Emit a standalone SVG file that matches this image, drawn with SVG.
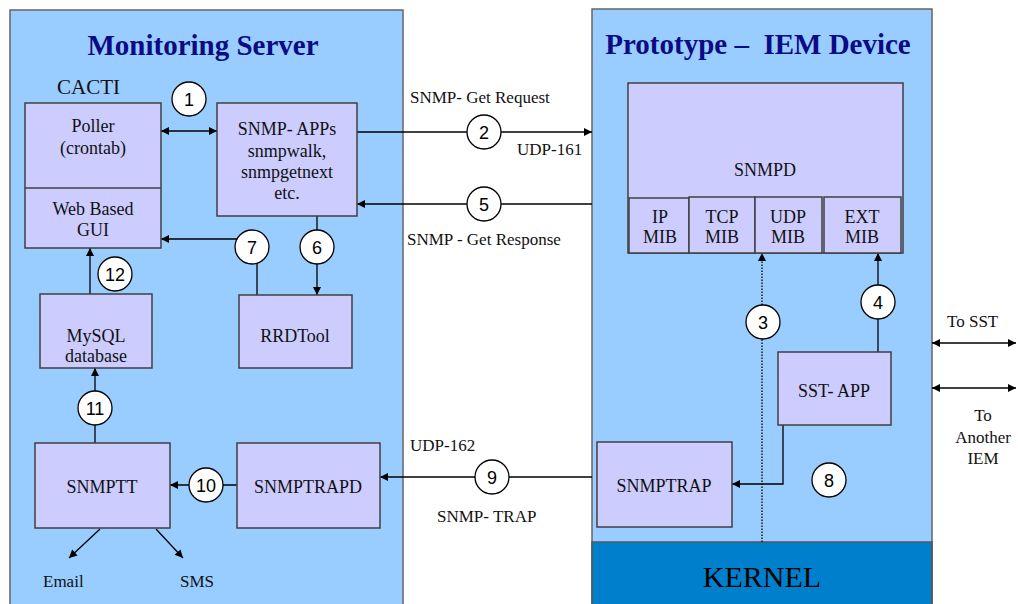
<svg xmlns="http://www.w3.org/2000/svg" width="1018" height="604" viewBox="0 0 1018 604">
<style>
.panel{fill:#99ccff;stroke:#666;stroke-width:1.5}
.box{fill:#ccccff;stroke:#404040;stroke-width:1.5}
.t{font-family:"Liberation Serif",serif;font-size:18px;fill:#111;text-anchor:middle}
.lbl{font-family:"Liberation Serif",serif;font-size:17px;fill:#111}
.title{font-family:"Liberation Serif",serif;font-weight:bold;font-size:29px;fill:#0b0b85;text-anchor:middle;white-space:pre}
.num circle{fill:#fff;stroke:#000;stroke-width:1.3}
.num text{font-family:"Liberation Sans",sans-serif;font-size:18px;fill:#000;text-anchor:middle}
.ln{stroke:#000;stroke-width:1.3;fill:none}
</style>
<defs>
<marker id="ah" viewBox="0 0 10 10" refX="10" refY="5" markerWidth="10" markerHeight="8" markerUnits="userSpaceOnUse" orient="auto-start-reverse"><path d="M0,0 L10,5 L0,10 z" fill="#000"/></marker>
</defs>
<rect width="1018" height="604" fill="#fff"/>
<g id="monitoring-server">
<rect class="panel" x="10" y="10" width="393" height="610"/>
<text class="title" x="203" y="55">Monitoring Server</text>
<text class="lbl" x="57" y="94" style="font-size:21px">CACTI</text>
</g>
<g id="prototype">
<rect class="panel" x="592" y="9" width="340" height="610"/>
<text class="title" x="758" y="54">Prototype –  IEM Device</text>
</g>
<g id="kernel">
<rect x="592" y="542" width="340" height="70" fill="#0080cc" stroke="#555" stroke-width="1.5"/>
<text class="t" x="762" y="587" style="font-size:30px;fill:#000">KERNEL</text>
</g>
<g id="connectors">
<path class="ln" d="M161,131 H217" marker-start="url(#ah)" marker-end="url(#ah)"/>
<path class="ln" d="M357,132 H592" marker-end="url(#ah)"/>
<path class="ln" d="M592,204 H357" marker-end="url(#ah)"/>
<path class="ln" d="M317,216 V295" marker-end="url(#ah)"/>
<path class="ln" d="M257,295 V239 H161" marker-end="url(#ah)"/>
<path class="ln" d="M90,295 V248" marker-end="url(#ah)"/>
<path class="ln" d="M95,443 V368" marker-end="url(#ah)"/>
<path class="ln" d="M237,485 H170" marker-end="url(#ah)"/>
<path class="ln" d="M592,477 H380" marker-end="url(#ah)"/>
<path class="ln" d="M100,529 L69,558" marker-end="url(#ah)"/>
<path class="ln" d="M156,529 L183,558" marker-end="url(#ah)"/>
<path class="ln" d="M762,542 V253" stroke-dasharray="1.5 1.5" marker-end="url(#ah)"/>
<path class="ln" d="M878,352 V253" marker-end="url(#ah)"/>
<path class="ln" d="M783,425 V484 H732" marker-end="url(#ah)"/>
<path class="ln" d="M932,343 H1016" marker-start="url(#ah)" marker-end="url(#ah)"/>
<path class="ln" d="M932,388 H1016" marker-start="url(#ah)" marker-end="url(#ah)"/>
<text class="lbl" x="410" y="103">SNMP- Get Request</text>
<text class="lbl" x="517" y="155">UDP-161</text>
<text class="lbl" x="407" y="245">SNMP - Get Response</text>
<text class="lbl" x="410" y="451">UDP-162</text>
<text class="lbl" x="437" y="522">SNMP- TRAP</text>
<text class="lbl" x="947" y="327">To SST</text>
<text class="lbl" x="983" y="421" text-anchor="middle">To</text>
<text class="lbl" x="983" y="443" text-anchor="middle">Another</text>
<text class="lbl" x="983" y="464" text-anchor="middle">IEM</text>
<text class="lbl" x="43" y="587">Email</text>
<text class="lbl" x="180" y="587">SMS</text>
</g>
<g id="steps" class="num">
<circle cx="189" cy="99" r="17"/><text x="189" y="105.5">1</text>
<circle cx="484" cy="132" r="17"/><text x="484" y="138.5">2</text>
<circle cx="484" cy="204" r="17"/><text x="484" y="210.5">5</text>
<circle cx="317" cy="247" r="17"/><text x="317" y="253.5">6</text>
<circle cx="252" cy="247" r="17"/><text x="252" y="253.5">7</text>
<circle cx="115" cy="274" r="17"/><text x="115" y="280.5">12</text>
<circle cx="95" cy="408" r="17"/><text x="95" y="414.5">11</text>
<circle cx="206" cy="485" r="17"/><text x="206" y="491.5">10</text>
<circle cx="492" cy="477" r="17"/><text x="492" y="483.5">9</text>
<circle cx="763" cy="322" r="17"/><text x="763" y="328.5">3</text>
<circle cx="878" cy="302" r="17"/><text x="878" y="308.5">4</text>
<circle cx="829" cy="480" r="17"/><text x="829" y="486.5">8</text>
</g>
<g id="cacti">
<rect class="box" x="25" y="103" width="136" height="145"/>
<line x1="25" y1="188" x2="161" y2="188" stroke="#404040" stroke-width="1.5"/>
<text class="t" x="93" y="132">Poller</text>
<text class="t" x="93" y="154">(crontab)</text>
<text class="t" x="93" y="215">Web Based</text>
<text class="t" x="93" y="236">GUI</text>
</g>
<g id="snmp-apps">
<rect class="box" x="217" y="103" width="140" height="113"/>
<text class="t" x="287" y="135">SNMP- APPs</text>
<text class="t" x="287" y="157">snmpwalk,</text>
<text class="t" x="287" y="178">snmpgetnext</text>
<text class="t" x="287" y="199">etc.</text>
</g>
<g id="mysql">
<rect class="box" x="40" y="294" width="112" height="74"/>
<text class="t" x="96" y="342">MySQL</text>
<text class="t" x="96" y="362">database</text>
</g>
<g id="rrdtool">
<rect class="box" x="239" y="295" width="113" height="73"/>
<text class="t" x="295" y="342">RRDTool</text>
</g>
<g id="snmptt">
<rect class="box" x="35" y="443" width="135" height="85"/>
<text class="t" x="102" y="493">SNMPTT</text>
</g>
<g id="snmptrapd">
<rect class="box" x="237" y="443" width="143" height="85"/>
<text class="t" x="308" y="493">SNMPTRAPD</text>
</g>
<g id="snmpd">
<rect class="box" x="628" y="83" width="275" height="170"/>
<text class="t" x="765" y="176">SNMPD</text>
<rect class="box" x="629" y="198" width="60" height="55"/>
<rect class="box" x="689" y="197" width="66" height="56"/>
<rect class="box" x="755" y="197" width="67" height="56"/>
<rect class="box" x="824" y="197" width="77" height="56"/>
<text class="t" x="660" y="223">IP</text><text class="t" x="660" y="243">MIB</text>
<text class="t" x="722" y="223">TCP</text><text class="t" x="722" y="243">MIB</text>
<text class="t" x="788" y="223">UDP</text><text class="t" x="788" y="243">MIB</text>
<text class="t" x="862" y="223">EXT</text><text class="t" x="862" y="243">MIB</text>
</g>
<g id="sst-app">
<rect class="box" x="778" y="352" width="113" height="73"/>
<text class="t" x="834" y="397">SST- APP</text>
</g>
<g id="snmptrap">
<rect class="box" x="597" y="442" width="135" height="85"/>
<text class="t" x="664" y="492">SNMPTRAP</text>
</g>
</svg>
